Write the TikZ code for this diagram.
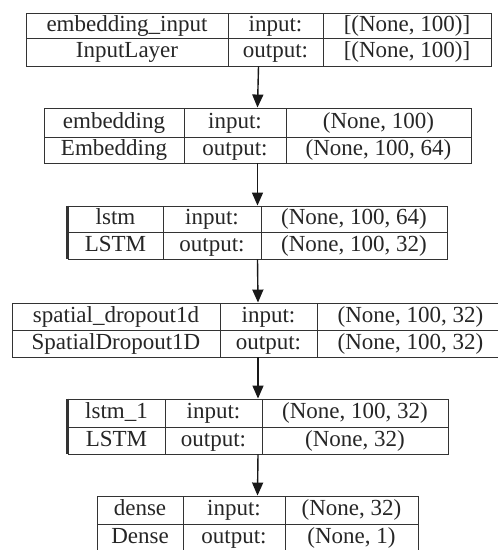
\documentclass[tikz,border=0pt]{standalone}
\usepackage{fontspec}
\setmainfont{Liberation Serif}
\usetikzlibrary{arrows.meta,fit}
\tikzset{
  x=1pt, y=-1pt,
  boxframe/.style={draw=black!80, line width=0.9pt, inner sep=0pt},
  cellline/.style={draw=black!80, line width=0.9pt},
  thickedge/.style={draw=black!80, line width=2.2pt},
  celltext/.style={font=\fontsize{23}{24}\selectfont, text=black!85, inner sep=0pt, text height=15pt, text depth=4pt, anchor=center},
  flow/.style={-{Triangle[length=13pt,width=11pt]}, line width=1.4pt, draw=black!90}
}
% name, L, R, T, M, B, D1, D2
\newcommand\kbox[8]{%
  \node[boxframe, fit={(#2,#4) (#3,#6)}] (#1) {};
  \draw[cellline] (#2,#5) -- (#3,#5);
  \draw[cellline] (#7,#4) -- (#7,#6);
  \draw[cellline] (#8,#4) -- (#8,#6);
}
\newcommand\krow[8]{% name, L, R, T, M, B, D1, D2 -- coordinates of cell centres
  \coordinate (#1-a) at ({(#2+#7)/2},{(#4+#5)/2});
  \coordinate (#1-b) at ({(#7+#8)/2},{(#4+#5)/2});
  \coordinate (#1-c) at ({(#8+#3)/2},{(#4+#5)/2});
  \coordinate (#1-d) at ({(#2+#7)/2},{(#5+#6)/2});
  \coordinate (#1-e) at ({(#7+#8)/2},{(#5+#6)/2});
  \coordinate (#1-f) at ({(#8+#3)/2},{(#5+#6)/2});
}
\begin{document}
\begin{tikzpicture}
\clip (0,0) rectangle (498,550);
\fill[white] (0,0) rectangle (498,550);

% box 1
\kbox{b1}{26}{491}{13}{38}{66}{228}{323}
\krow{r1}{26}{491}{13}{38}{66}{228}{323}
\node[celltext] (t1a) at (r1-a) {embedding\_input};
\node[celltext] (t1b) at (r1-b) {input:};
\node[celltext] (t1c) at (r1-c) {[(None, 100)]};
\node[celltext] (t1d) at (r1-d) {InputLayer};
\node[celltext] (t1e) at (r1-e) {output:};
\node[celltext] (t1f) at (r1-f) {[(None, 100)]};

% box 2
\kbox{b2}{44}{471}{108}{137}{163}{184}{286}
\krow{r2}{44}{471}{108}{137}{163}{184}{286}
\node[celltext] (t2a) at (r2-a) {embedding};
\node[celltext] (t2b) at (r2-b) {input:};
\node[celltext] (t2c) at (r2-c) {(None, 100)};
\node[celltext] (t2d) at (r2-d) {Embedding};
\node[celltext] (t2e) at (r2-e) {output:};
\node[celltext] (t2f) at (r2-f) {(None, 100, 64)};

% box 3
\kbox{b3}{68}{447}{206}{232}{259}{163}{261}
\krow{r3}{68}{447}{206}{232}{259}{163}{261}
\draw[thickedge] (b3.north west) -- (b3.south west);
\node[celltext] (t3a) at (r3-a) {lstm};
\node[celltext] (t3b) at (r3-b) {input:};
\node[celltext] (t3c) at (r3-c) {(None, 100, 64)};
\node[celltext] (t3d) at (r3-d) {LSTM};
\node[celltext] (t3e) at (r3-e) {output:};
\node[celltext] (t3f) at (r3-f) {(None, 100, 32)};

% box 4
\kbox{b4}{12}{504}{303}{330}{357}{220}{317}
\krow{r4}{12}{504}{303}{330}{357}{220}{317}
\node[celltext] (t4a) at (r4-a) {spatial\_dropout1d};
\node[celltext] (t4b) at (r4-b) {input:};
\node[celltext] (t4c) at (r4-c) {(None, 100, 32)};
\node[celltext] (t4d) at (r4-d) {SpatialDropout1D};
\node[celltext] (t4e) at (r4-e) {output:};
\node[celltext] (t4f) at (r4-f) {(None, 100, 32)};

% box 5
\kbox{b5}{68}{448}{399}{427}{454}{165}{262}
\krow{r5}{68}{448}{399}{427}{454}{165}{262}
\draw[thickedge] (b5.north west) -- (b5.south west);
\node[celltext] (t5a) at (r5-a) {lstm\_1};
\node[celltext] (t5b) at (r5-b) {input:};
\node[celltext] (t5c) at (r5-c) {(None, 100, 32)};
\node[celltext] (t5d) at (r5-d) {LSTM};
\node[celltext] (t5e) at (r5-e) {output:};
\node[celltext] (t5f) at (r5-f) {(None, 32)};

% box 6
\kbox{b6}{97}{418}{496}{524}{552}{183}{285}
\krow{r6}{97}{418}{496}{524}{552}{183}{285}
\node[celltext] (t6a) at (r6-a) {dense};
\node[celltext] (t6b) at (r6-b) {input:};
\node[celltext] (t6c) at (r6-c) {(None, 32)};
\node[celltext] (t6d) at (r6-d) {Dense};
\node[celltext] (t6e) at (r6-e) {output:};
\node[celltext] (t6f) at (r6-f) {(None, 1)};

% connectors
\draw[flow] (b1.south) -- (b2.north);
\draw[flow] (b2.south) -- (b3.north);
\draw[flow] (b3.south) -- (b4.north);
\draw[flow] (b4.south) -- (b5.north);
\draw[flow] (b5.south) -- (b6.north);
\end{tikzpicture}
\end{document}
